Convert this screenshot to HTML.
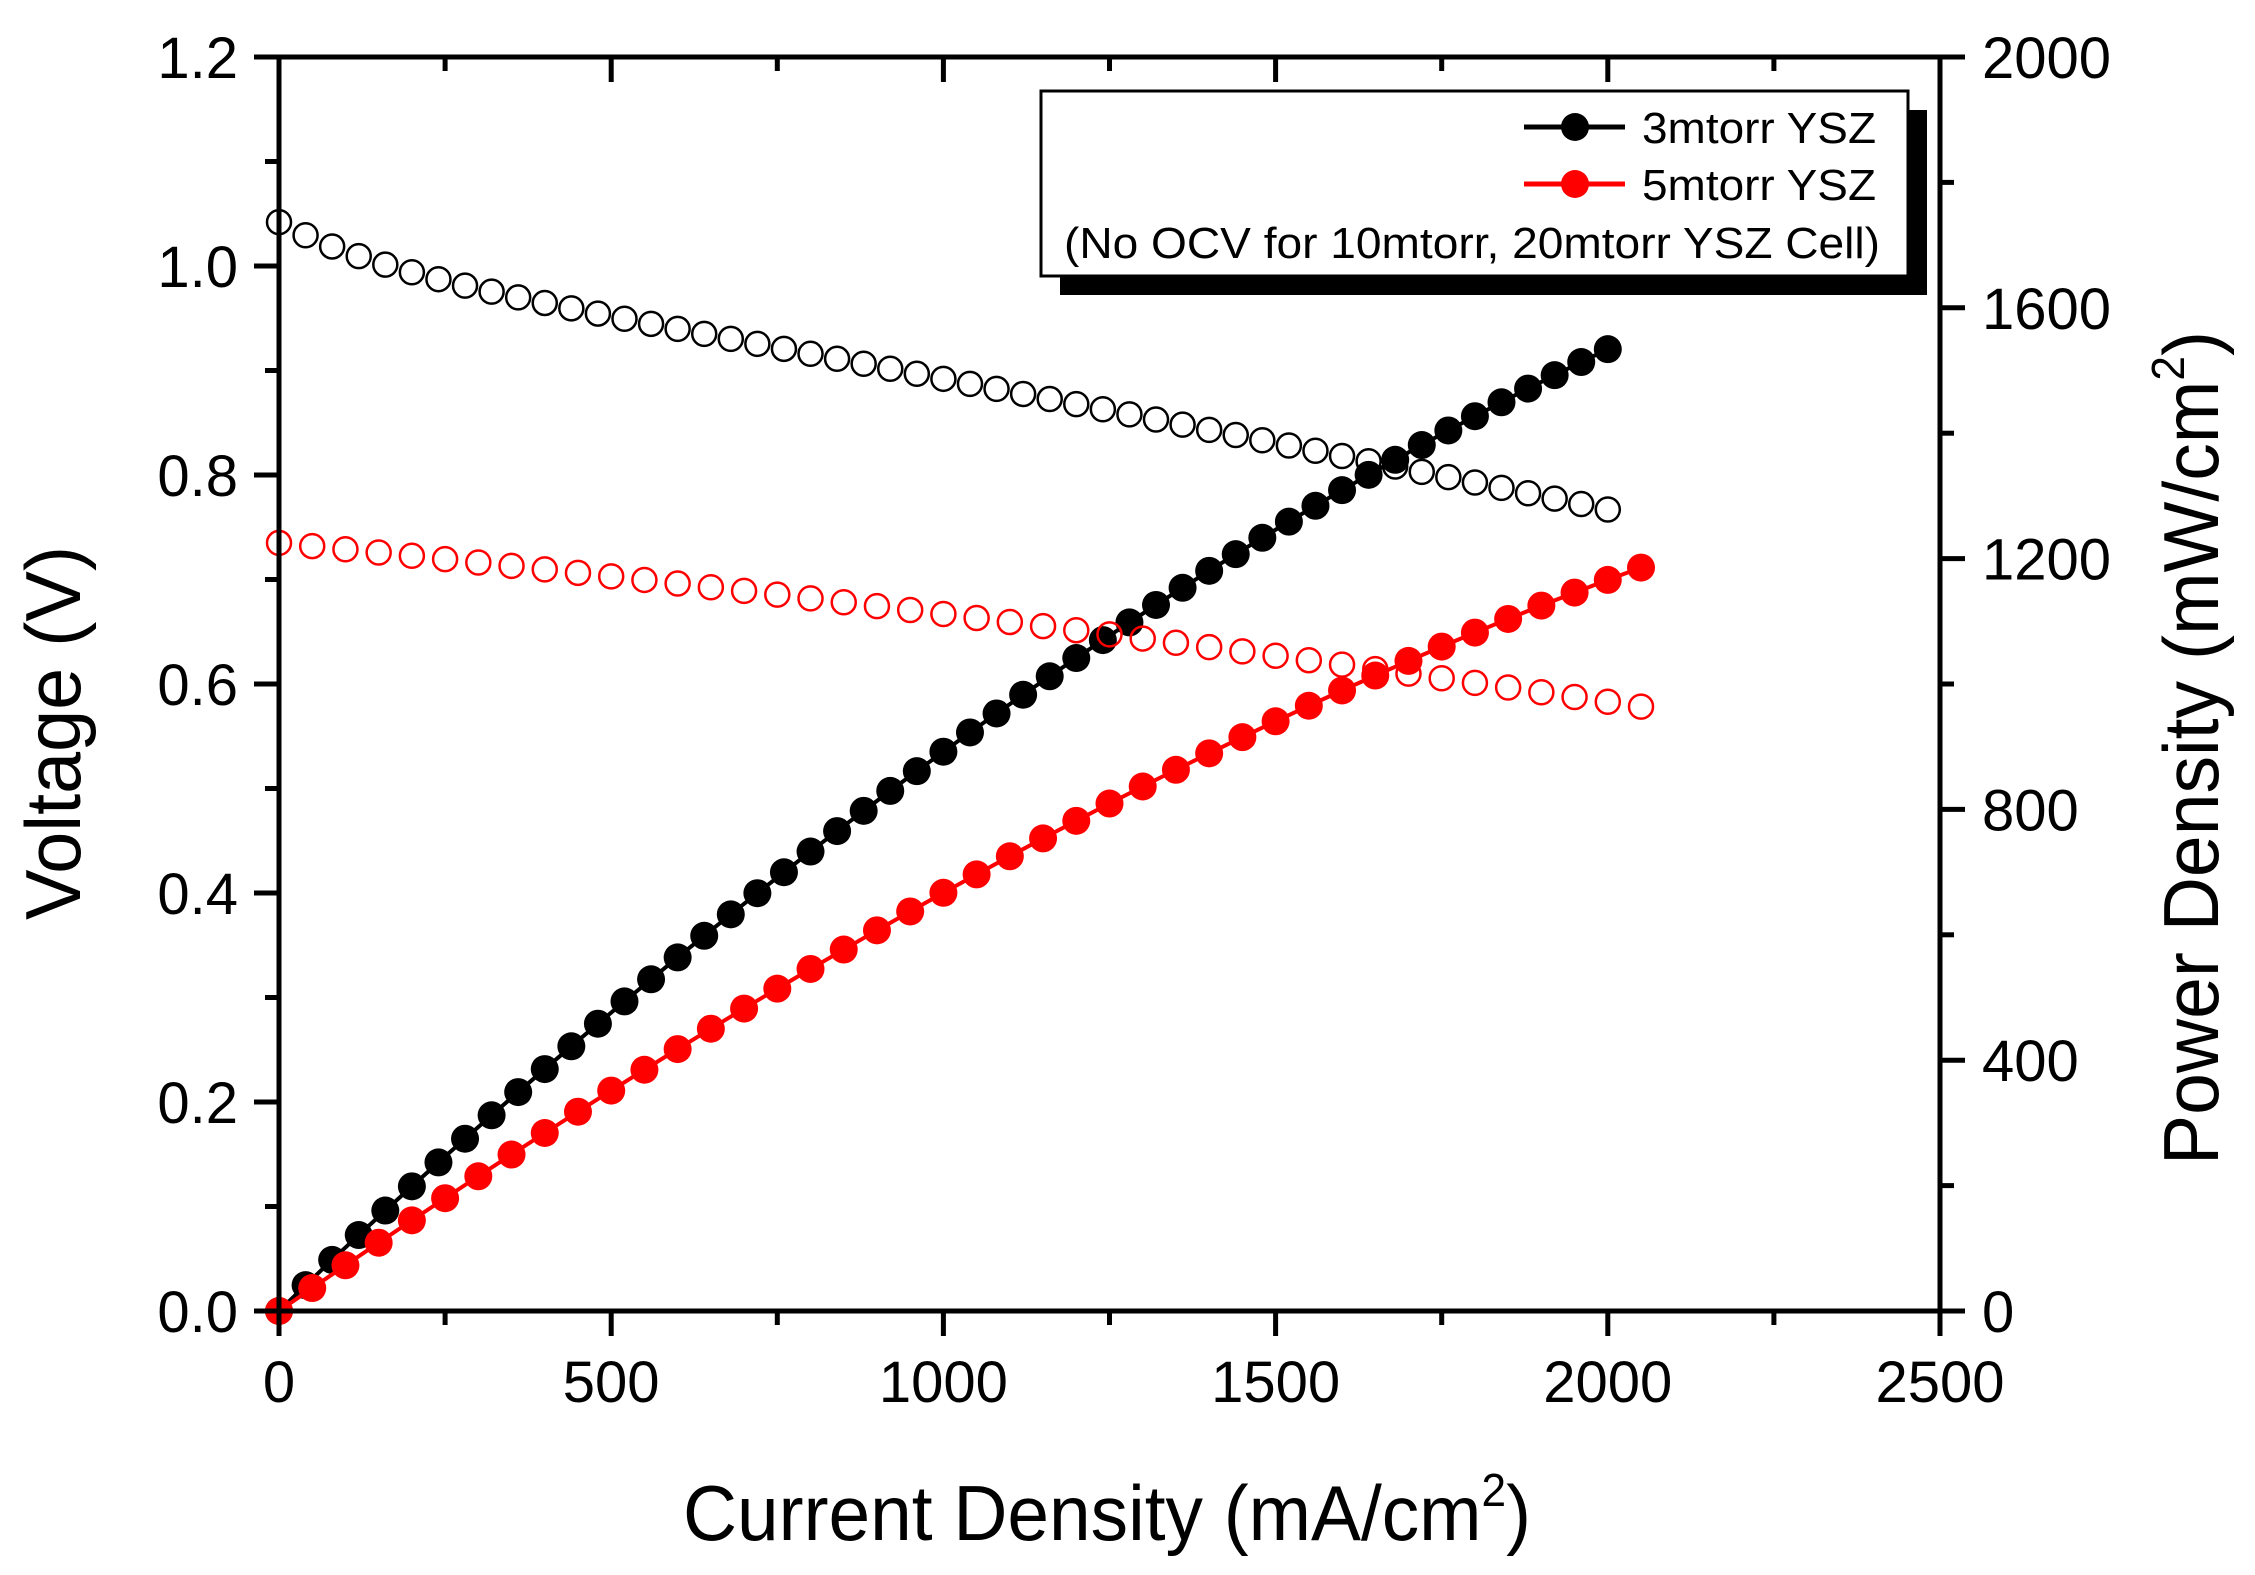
<!DOCTYPE html>
<html><head><meta charset="utf-8"><style>html,body{margin:0;padding:0;background:#fff}svg{display:block}</style></head>
<body>
<svg id="s" width="2255" height="1575" xmlns="http://www.w3.org/2000/svg" font-family="'Liberation Sans', Arial, sans-serif">
<g id="data"></g>
<g id="axes" stroke="#000" stroke-width="5" fill="none"></g>
<g id="labels" font-size="58" fill="#000"></g>
<text x="1107" y="1540" font-size="78" text-anchor="middle" textLength="848" lengthAdjust="spacingAndGlyphs">Current Density (mA/cm<tspan font-size="46" dy="-34">2</tspan><tspan dy="34">)</tspan></text>
<text transform="translate(80,733) rotate(-90)" font-size="78" text-anchor="middle" textLength="374" lengthAdjust="spacingAndGlyphs">Voltage (V)</text>
<text transform="translate(2218,748) rotate(-90)" font-size="78" text-anchor="middle" textLength="834" lengthAdjust="spacingAndGlyphs">Power Density (mW/cm<tspan font-size="46" dy="-34">2</tspan><tspan dy="34">)</tspan></text>
<rect x="1060" y="110" width="867" height="185" fill="#000"/>
<rect x="1041" y="91" width="867" height="185" fill="#fff" stroke="#000" stroke-width="3"/>
<line x1="1524" y1="127" x2="1625" y2="127" stroke="#000" stroke-width="5"/>
<circle cx="1575" cy="127" r="14" fill="#000"/>
<line x1="1524" y1="184" x2="1625" y2="184" stroke="#f00" stroke-width="5"/>
<circle cx="1575" cy="184" r="14" fill="#f00"/>
<g font-size="44" fill="#000">
<text x="1642" y="143" textLength="234" lengthAdjust="spacingAndGlyphs">3mtorr YSZ</text>
<text x="1642" y="200" textLength="234" lengthAdjust="spacingAndGlyphs">5mtorr YSZ</text>
<text x="1064" y="258" textLength="816" lengthAdjust="spacingAndGlyphs">(No OCV for 10mtorr, 20mtorr YSZ Cell)</text>
</g>
</svg>
<script>
var NS="http://www.w3.org/2000/svg";
function el(p,t,a){var e=document.createElementNS(NS,t);for(var k in a)e.setAttribute(k,a[k]);p.appendChild(e);return e;}
var X0=279,X1=1940,Y0=1311,YT=57;
function X(i){return X0+i*(X1-X0)/2500;}
function YV(v){return Y0-v*(Y0-YT)/1.2;}
function YP(p){return Y0-p*(Y0-YT)/2000;}
var d=document.getElementById('data');
function vb(I){return 1.042-0.00011*I-0.035*(1-Math.exp(-I/150))-0.000000005*I*I;}
function vr(I){return 0.735-0.00006*I-0.000000008*I*I;}
function series(fn,step,max,col){
 var pts=[],I;
 for(I=0;I<=max;I+=step)pts.push(I);
 el(d,'polyline',{points:pts.map(function(i){return X(i)+','+YP(i*fn(i));}).join(' '),fill:'none',stroke:col,'stroke-width':4});
 pts.forEach(function(i){el(d,'circle',{cx:X(i),cy:YP(i*fn(i)),r:14,fill:col});});
 pts.forEach(function(i){el(d,'circle',{cx:X(i),cy:YV(fn(i)),r:12,fill:'none',stroke:col,'stroke-width':2.5});});
}
series(vb,40,2000,'#000');
series(vr,50,2050,'#f00');
var a=document.getElementById('axes'),L=document.getElementById('labels');
el(a,'rect',{x:X0,y:YT,width:X1-X0,height:Y0-YT});
var i,x,y;
for(i=0;i<=2500;i+=250){x=X(i);var maj=i%500==0;
 el(a,'line',{x1:x,y1:Y0,x2:x,y2:Y0+(maj?25:14)});
 el(a,'line',{x1:x,y1:YT,x2:x,y2:YT+(maj?25:14)});
 if(maj){var t=el(L,'text',{x:x,y:1402,'text-anchor':'middle'});t.textContent=i;}}
for(i=0;i<=12;i++){y=YV(i/10);var maj=i%2==0;
 el(a,'line',{x1:X0,y1:y,x2:X0-(maj?25:14),y2:y});
 if(maj){var t=el(L,'text',{x:238,y:y+21,'text-anchor':'end'});t.textContent=(i/10).toFixed(1);}}
for(i=0;i<=2000;i+=200){y=YP(i);var maj=i%400==0;
 el(a,'line',{x1:X1,y1:y,x2:X1+(maj?25:14),y2:y});
 if(maj){var t=el(L,'text',{x:1982,y:y+21});t.textContent=i;}}
</script>
</body></html>
